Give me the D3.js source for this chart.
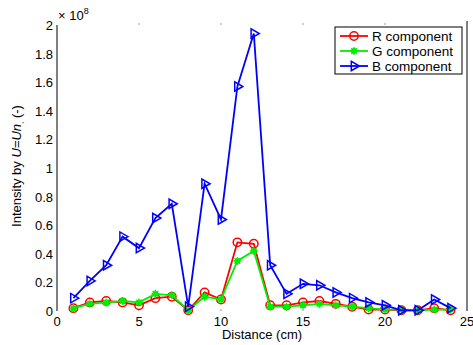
<!DOCTYPE html>
<html>
<head>
<meta charset="utf-8">
<script src="https://cdn.jsdelivr.net/npm/d3@7"></script>
<style>
  body { margin: 0; background: #fff; }
  text { font-family: "Liberation Sans", Arial, sans-serif; }
</style>
</head>
<body>
<div id="chart"></div>
<script>
const width = 473;
const height = 345;

// distance (cm)
const distance = [1, 2, 3, 4, 5, 6, 7, 8, 9, 10, 11, 12, 13, 14, 15, 16, 17, 18, 19, 20, 21, 22, 23, 24];
// intensities in units of 1e8
const rValues = [0.02, 0.06, 0.07, 0.06, 0.04, 0.09, 0.10, 0.005, 0.13, 0.08, 0.48, 0.47, 0.04, 0.04, 0.06, 0.07, 0.05, 0.03, 0.01, 0.01, 0.005, 0.005, 0.02, 0.005];
const gValues = [0.02, 0.05, 0.06, 0.07, 0.06, 0.12, 0.11, 0.005, 0.10, 0.08, 0.35, 0.42, 0.03, 0.03, 0.04, 0.05, 0.04, 0.03, 0.02, 0.01, 0.01, 0.005, 0.01, 0.01];
const bValues = [0.09, 0.21, 0.32, 0.52, 0.44, 0.65, 0.75, 0.03, 0.89, 0.64, 1.57, 1.94, 0.32, 0.12, 0.19, 0.18, 0.13, 0.09, 0.06, 0.04, 0.005, 0.005, 0.08, 0.02];

const xTicks = [0, 5, 10, 15, 20, 25];
const yTicks = [0, 0.2, 0.4, 0.6, 0.8, 1, 1.2, 1.4, 1.6, 1.8, 2];

const seriesNames = ["R component", "G component", "B component"];
const seriesColors = ["#ff0000", "#00ee00", "#0000ff"];

const margin = {left: 57, right: 6, top: 25, bottom: 34};

const svg = d3.select("#chart")
    .append("svg")
    .attr("width", width)
    .attr("height", height);

const x = d3.scaleLinear().domain([0, 25]).range([margin.left, width - margin.right]);
const y = d3.scaleLinear().domain([0, 2]).range([height - margin.bottom, margin.top]);

// frame: left and right spines, horizontal ones are mostly lost in the picture
svg.append("line")
    .attr("x1", x(0)).attr("x2", x(0))
    .attr("y1", y(0)).attr("y2", y(2))
    .attr("stroke", "#000");
svg.append("line")
    .attr("x1", x(25)).attr("x2", x(25))
    .attr("y1", y(0)).attr("y2", y(2) - 4)
    .attr("stroke", "#000");

// small ticks on top and bottom
xTicks.slice(1, -1).forEach(t => {
    svg.append("line").attr("x1", x(t)).attr("x2", x(t)).attr("y1", y(2) - 2).attr("y2", y(2))
        .attr("stroke", "#999");
    svg.append("line").attr("x1", x(t)).attr("x2", x(t)).attr("y1", y(0)).attr("y2", y(0) - 2)
        .attr("stroke", "#999");
});

// tick labels
svg.append("g").selectAll("text")
    .data(yTicks)
    .enter()
    .append("text")
    .attr("x", x(0) - 4)
    .attr("y", d => y(d) + 5)
    .attr("text-anchor", "end")
    .attr("font-size", 13)
    .text(d => d);

svg.append("g").selectAll("text")
    .data(xTicks)
    .enter()
    .append("text")
    .attr("x", d => x(d))
    .attr("y", y(0) + 15)
    .attr("text-anchor", "middle")
    .attr("font-size", 13)
    .text(d => d);

// exponent
const expo = svg.append("text")
    .attr("x", x(0) + 1)
    .attr("y", y(2) - 5)
    .attr("font-size", 13);
expo.append("tspan").text("× 10");
expo.append("tspan").attr("dy", -6).attr("font-size", 9).text("8");

// axis titles
svg.append("text")
    .attr("x", (x(0) + x(25)) / 2)
    .attr("y", height - 6)
    .attr("text-anchor", "middle")
    .attr("font-size", 13)
    .text("Distance (cm)");

const yLabel = svg.append("text")
    .attr("transform", `translate(21,${(y(0) + y(2)) / 2 - 2}) rotate(-90)`)
    .attr("text-anchor", "middle")
    .attr("font-size", 13);
yLabel.append("tspan").text("Intensity by ");
yLabel.append("tspan").attr("font-style", "italic").text("U=Un");
yLabel.append("tspan").attr("font-size", 8).attr("dy", 2).text(",");
yLabel.append("tspan").attr("dy", -2).text(" (-)");

// series
const series = [rValues, gValues, bValues].map((vals, i) => ({
    name: seriesNames[i],
    color: seriesColors[i],
    points: distance.map((d, j) => ({x: d, y: vals[j]}))
}));

const line = d3.line().x(d => x(d.x)).y(d => y(d.y));

const tri = d3.symbol().type(d3.symbolTriangle).size(38);

function drawMarker(g, i, cx, cy, color) {
    if (i === 0) {
        g.append("circle").attr("cx", cx).attr("cy", cy).attr("r", 4.2)
            .attr("fill", "none").attr("stroke", color).attr("stroke-width", 1.5);
    } else if (i === 1) {
        // asterisk-like filled marker
        g.append("circle").attr("cx", cx).attr("cy", cy).attr("r", 3)
            .attr("fill", color);
        [0, 45, 90, 135].forEach(a => {
            g.append("line")
                .attr("x1", -4).attr("x2", 4).attr("y1", 0).attr("y2", 0)
                .attr("transform", `translate(${cx},${cy}) rotate(${a})`)
                .attr("stroke", color).attr("stroke-width", 1.2);
        });
    } else {
        g.append("path").attr("d", tri())
            .attr("transform", `translate(${cx},${cy}) rotate(90)`)
            .attr("fill", "none").attr("stroke", color).attr("stroke-width", 1.5);
    }
}

series.forEach((s, i) => {
    const g = svg.append("g");
    g.append("path")
        .datum(s.points)
        .attr("d", line)
        .attr("fill", "none")
        .attr("stroke", s.color)
        .attr("stroke-width", 1.8);
    s.points.forEach(p => drawMarker(g, i, x(p.x), y(p.y), s.color));
});

// legend
const legend = svg.append("g").attr("transform", "translate(335,27)");
legend.append("rect")
    .attr("width", 127).attr("height", 47)
    .attr("fill", "#fff").attr("stroke", "#000");
series.forEach((s, i) => {
    const ly = 9 + i * 15;
    legend.append("line")
        .attr("x1", 5).attr("x2", 33).attr("y1", ly).attr("y2", ly)
        .attr("stroke", s.color).attr("stroke-width", 1.8);
    drawMarker(legend, i, 19, ly, s.color);
    legend.append("text")
        .attr("x", 37).attr("y", ly + 5)
        .attr("font-size", 13.5)
        .text(s.name);
});
</script>
</body>
</html>
